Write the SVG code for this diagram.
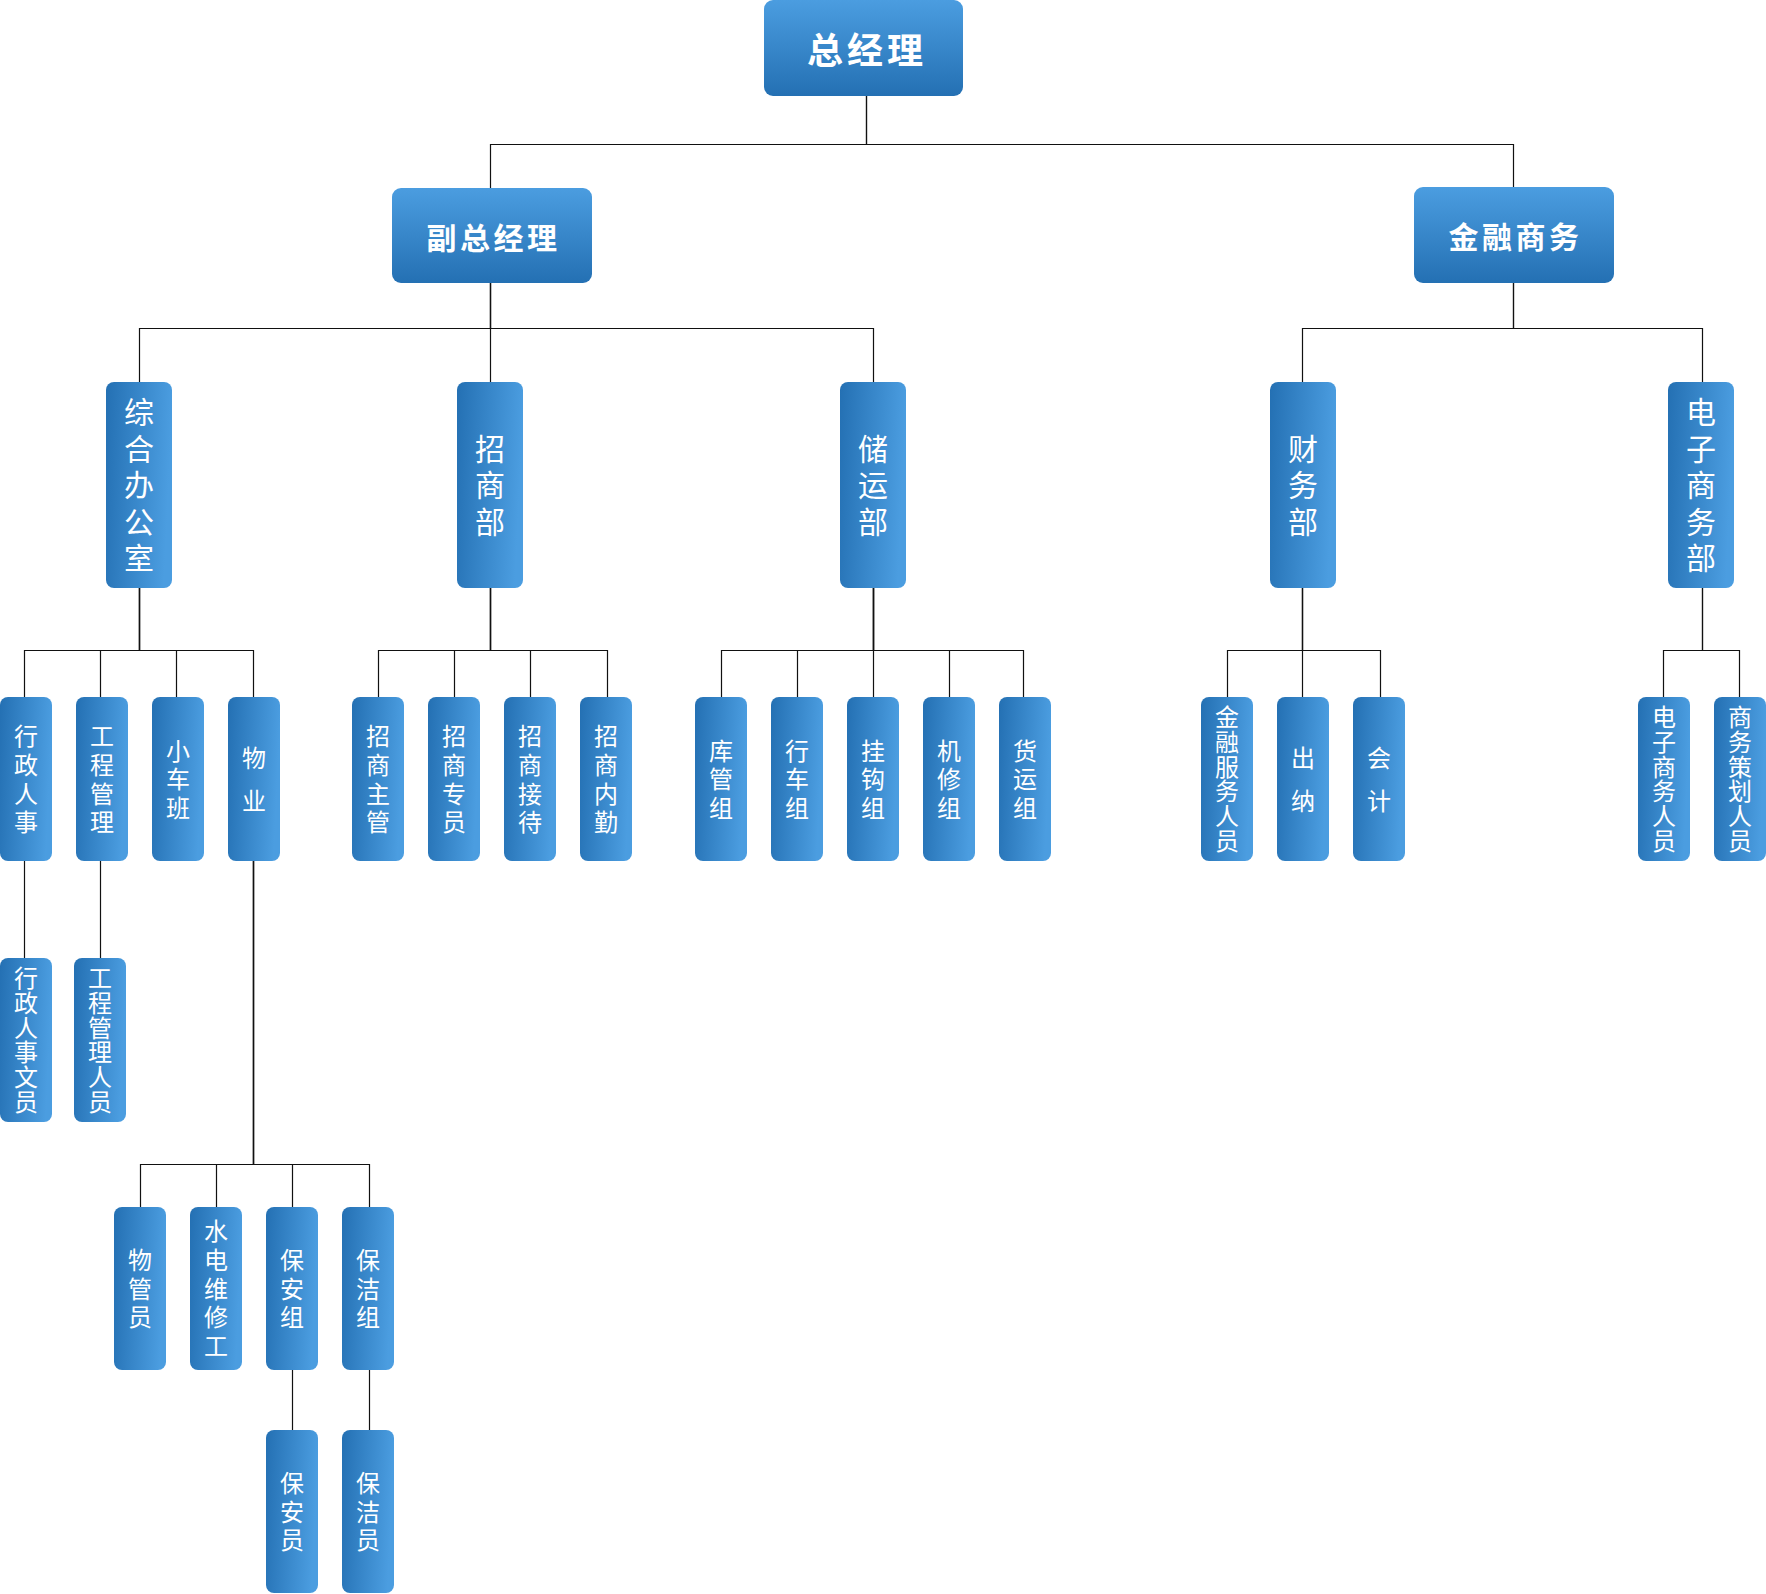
<svg xmlns="http://www.w3.org/2000/svg" width="1766" height="1594" viewBox="0 0 1766 1594">
<defs>
<linearGradient id="gTop" x1="0" y1="0" x2="0" y2="1">
<stop offset="0" stop-color="#4b9de0"/>
<stop offset="1" stop-color="#2470b3"/>
</linearGradient>
<linearGradient id="gSide" x1="0" y1="0" x2="1" y2="0.15">
<stop offset="0" stop-color="#2470b3"/>
<stop offset="1" stop-color="#4b9de0"/>
</linearGradient>
<style>
.top{fill:url(#gTop);}
.box{fill:url(#gSide);}
.edge{fill:none;stroke:#111;stroke-width:1.2;}
text{font-family:"Noto Sans CJK SC","Noto Sans",sans-serif;fill:#fff;text-anchor:middle;}
.h0{font-size:36px;font-weight:bold;letter-spacing:4px;dominant-baseline:central;}
.h1{font-size:30px;font-weight:bold;letter-spacing:3.5px;dominant-baseline:central;}
.v2{font-size:30px;writing-mode:vertical-rl;text-orientation:upright;letter-spacing:6.5px;}
.v3{font-size:24px;writing-mode:vertical-rl;text-orientation:upright;}
.p4{letter-spacing:4.8px;}
.p3{letter-spacing:4.5px;}
.p2{letter-spacing:19px;}
.p6{letter-spacing:0.7px;}
</style>
</defs>
<g id="connectors">
<path class="edge" d="M866.5 96V144.5H490.5V188"/>
<path class="edge" d="M866.5 96V144.5H1513.5V187"/>
<path class="edge" d="M490.5 283V328.5H139.5V382"/>
<path class="edge" d="M490.5 283V382"/>
<path class="edge" d="M490.5 283V328.5H873.5V382"/>
<path class="edge" d="M1513.5 283V328.5H1302.5V382"/>
<path class="edge" d="M1513.5 283V328.5H1702.5V382"/>
<path class="edge" d="M139.5 588V650.5H24.5V697"/>
<path class="edge" d="M139.5 588V650.5H100.5V697"/>
<path class="edge" d="M139.5 588V650.5H176.5V697"/>
<path class="edge" d="M139.5 588V650.5H253.5V697"/>
<path class="edge" d="M490.5 588V650.5H378.5V697"/>
<path class="edge" d="M490.5 588V650.5H454.5V697"/>
<path class="edge" d="M490.5 588V650.5H530.5V697"/>
<path class="edge" d="M490.5 588V650.5H607.5V697"/>
<path class="edge" d="M873.5 588V650.5H721.5V697"/>
<path class="edge" d="M873.5 588V650.5H797.5V697"/>
<path class="edge" d="M873.5 588V697"/>
<path class="edge" d="M873.5 588V650.5H949.5V697"/>
<path class="edge" d="M873.5 588V650.5H1023.5V697"/>
<path class="edge" d="M1302.5 588V650.5H1227.5V697"/>
<path class="edge" d="M1302.5 588V697"/>
<path class="edge" d="M1302.5 588V650.5H1380.5V697"/>
<path class="edge" d="M1702.5 588V650.5H1663.5V697"/>
<path class="edge" d="M1702.5 588V650.5H1739.5V697"/>
<path class="edge" d="M24.5 861V958"/>
<path class="edge" d="M100.5 861V958"/>
<path class="edge" d="M253.5 861V1164.5H140.5V1207"/>
<path class="edge" d="M253.5 861V1164.5H216.5V1207"/>
<path class="edge" d="M253.5 861V1164.5H292.5V1207"/>
<path class="edge" d="M253.5 861V1164.5H369.5V1207"/>
<path class="edge" d="M292.5 1370V1430"/>
<path class="edge" d="M369.5 1370V1430"/>
</g>
<g id="n-zjl"><rect class="top" x="764" y="0" width="199" height="96" rx="9"/><text class="h0" x="867" y="48">总经理</text></g>
<g id="n-fzjl"><rect class="top" x="392" y="188" width="200" height="95" rx="9"/><text class="h1" x="493.5" y="235.5">副总经理</text></g>
<g id="n-jrsw"><rect class="top" x="1414" y="187" width="200" height="96" rx="9"/><text class="h1" x="1515.5" y="235">金融商务</text></g>

<g id="n-zhbgs"><rect class="box" x="106" y="382" width="66" height="206" rx="8"/><text class="v2" x="139" y="488.25">综合办公室</text></g>
<g id="n-zsb"><rect class="box" x="457" y="382" width="66" height="206" rx="8"/><text class="v2" x="490" y="488.25">招商部</text></g>
<g id="n-cyb"><rect class="box" x="840" y="382" width="66" height="206" rx="8"/><text class="v2" x="873" y="488.25">储运部</text></g>
<g id="n-cwb"><rect class="box" x="1270" y="382" width="66" height="206" rx="8"/><text class="v2" x="1303" y="488.25">财务部</text></g>
<g id="n-dzswb"><rect class="box" x="1668" y="382" width="66" height="206" rx="8"/><text class="v2" x="1701" y="488.25">电子商务部</text></g>

<g id="n-xzrs"><rect class="box" x="0" y="697" width="52" height="164" rx="8"/><text class="v3 p4" x="26" y="781.4">行政人事</text></g>
<g id="n-gcgl"><rect class="box" x="76" y="697" width="52" height="164" rx="8"/><text class="v3 p4" x="102" y="781.4">工程管理</text></g>
<g id="n-xcb"><rect class="box" x="152" y="697" width="52" height="164" rx="8"/><text class="v3 p3" x="178" y="781.25">小车班</text></g>
<g id="n-wy"><rect class="box" x="228" y="697" width="52" height="164" rx="8"/><text class="v3 p2" x="254" y="788.5">物业</text></g>

<g id="n-zszg"><rect class="box" x="352" y="697" width="52" height="164" rx="8"/><text class="v3 p4" x="378" y="781.4">招商主管</text></g>
<g id="n-zszy"><rect class="box" x="428" y="697" width="52" height="164" rx="8"/><text class="v3 p4" x="454" y="781.4">招商专员</text></g>
<g id="n-zsjd"><rect class="box" x="504" y="697" width="52" height="164" rx="8"/><text class="v3 p4" x="530" y="781.4">招商接待</text></g>
<g id="n-zsnq"><rect class="box" x="580" y="697" width="52" height="164" rx="8"/><text class="v3 p4" x="606" y="781.4">招商内勤</text></g>

<g id="n-kgz"><rect class="box" x="695" y="697" width="52" height="164" rx="8"/><text class="v3 p3" x="721" y="781.25">库管组</text></g>
<g id="n-xcz"><rect class="box" x="771" y="697" width="52" height="164" rx="8"/><text class="v3 p3" x="797" y="781.25">行车组</text></g>
<g id="n-ggz"><rect class="box" x="847" y="697" width="52" height="164" rx="8"/><text class="v3 p3" x="873" y="781.25">挂钩组</text></g>
<g id="n-jxz"><rect class="box" x="923" y="697" width="52" height="164" rx="8"/><text class="v3 p3" x="949" y="781.25">机修组</text></g>
<g id="n-hyz"><rect class="box" x="999" y="697" width="52" height="164" rx="8"/><text class="v3 p3" x="1025" y="781.25">货运组</text></g>

<g id="n-jrfwry"><rect class="box" x="1201" y="697" width="52" height="164" rx="8"/><text class="v3 p6" x="1227" y="779.35">金融服务人员</text></g>
<g id="n-cn"><rect class="box" x="1277" y="697" width="52" height="164" rx="8"/><text class="v3 p2" x="1303" y="788.5">出纳</text></g>
<g id="n-kj"><rect class="box" x="1353" y="697" width="52" height="164" rx="8"/><text class="v3 p2" x="1379" y="788.5">会计</text></g>

<g id="n-dzswry"><rect class="box" x="1638" y="697" width="52" height="164" rx="8"/><text class="v3 p6" x="1664" y="779.35">电子商务人员</text></g>
<g id="n-swchry"><rect class="box" x="1714" y="697" width="52" height="164" rx="8"/><text class="v3 p6" x="1740" y="779.35">商务策划人员</text></g>

<g id="n-xzrswy"><rect class="box" x="0" y="958" width="52" height="164" rx="8"/><text class="v3 p6" x="26" y="1040.35">行政人事文员</text></g>
<g id="n-gcglry"><rect class="box" x="74" y="958" width="52" height="164" rx="8"/><text class="v3 p6" x="100" y="1040.35">工程管理人员</text></g>

<g id="n-wgy"><rect class="box" x="114" y="1207" width="52" height="163" rx="8"/><text class="v3 p4" x="140" y="1290.9">物管员</text></g>
<g id="n-sdwxg"><rect class="box" x="190" y="1207" width="52" height="163" rx="8"/><text class="v3 p4" x="216" y="1290.9">水电维修工</text></g>
<g id="n-baz"><rect class="box" x="266" y="1207" width="52" height="163" rx="8"/><text class="v3 p4" x="292" y="1290.9">保安组</text></g>
<g id="n-bjz"><rect class="box" x="342" y="1207" width="52" height="163" rx="8"/><text class="v3 p4" x="368" y="1290.9">保洁组</text></g>

<g id="n-bay"><rect class="box" x="266" y="1430" width="52" height="163" rx="8"/><text class="v3 p4" x="292" y="1513.9">保安员</text></g>
<g id="n-bjy"><rect class="box" x="342" y="1430" width="52" height="163" rx="8"/><text class="v3 p4" x="368" y="1513.9">保洁员</text></g>
</svg>
